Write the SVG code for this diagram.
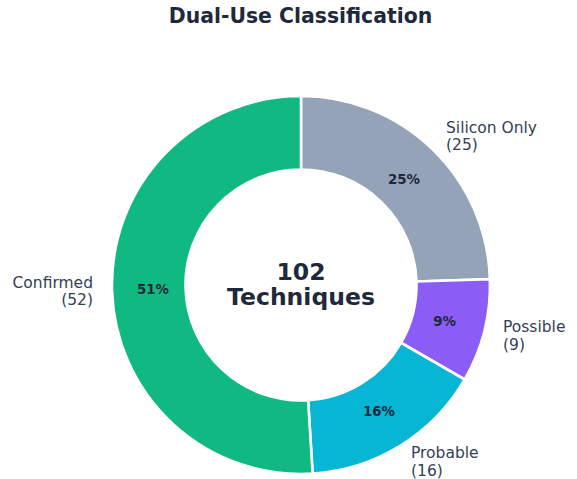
<svg xmlns="http://www.w3.org/2000/svg" width="577" height="479" viewBox="0 0 577 479">
  <style>
    text { font-family: "DejaVu Sans", "Noto Sans", sans-serif; }
    .title { font-size: 20.4px; font-weight: bold; fill: #1e293b; text-anchor: middle; }
    .wedge { stroke: #ffffff; stroke-width: 2.6; stroke-linejoin: miter; }
    .pct { font-size: 13.4px; font-weight: bold; fill: #1e293b; text-anchor: middle; }
    .lbl { font-size: 15.5px; fill: #334155; }
    .center { font-size: 23.5px; font-weight: bold; fill: #1e293b; text-anchor: middle; }
  </style>
  <rect width="577" height="479" fill="#ffffff"/>

  <text class="title" x="300.5" y="23">Dual-Use Classification</text>

  <!-- donut wedges, clockwise from 12 o'clock -->
  <g id="silicon-only">
    <path class="wedge" fill="#94a3b8" d="M 301 96 A 189 189 0 0 1 489.91 279.18 L 416.45 281.44 A 115.5 115.5 0 0 0 301 169.5 Z"/>
    <text class="pct" x="404" y="183.5">25%</text>
    <text class="lbl" x="446" y="132.5">Silicon Only</text>
    <text class="lbl" x="446" y="150">(25)</text>
  </g>
  <g id="possible">
    <path class="wedge" fill="#8b5cf6" d="M 489.91 279.18 A 189 189 0 0 1 464.68 379.5 L 401.03 342.75 A 115.5 115.5 0 0 0 416.45 281.44 Z"/>
    <text class="pct" x="444.5" y="326">9%</text>
    <text class="lbl" x="503" y="332">Possible</text>
    <text class="lbl" x="503" y="349.5">(9)</text>
  </g>
  <g id="probable">
    <path class="wedge" fill="#06b6d4" d="M 464.68 379.5 A 189 189 0 0 1 312.63 473.64 L 308.11 400.28 A 115.5 115.5 0 0 0 401.03 342.75 Z"/>
    <text class="pct" x="379" y="415.6">16%</text>
    <text class="lbl" x="411" y="458">Probable</text>
    <text class="lbl" x="411" y="475.5">(16)</text>
  </g>
  <g id="confirmed">
    <path class="wedge" fill="#10b981" d="M 312.63 473.64 A 189 189 0 1 1 301 96 L 301 169.5 A 115.5 115.5 0 1 0 308.11 400.28 Z"/>
    <text class="pct" x="153" y="294.4">51%</text>
    <text class="lbl" x="93" y="287.7" text-anchor="end">Confirmed</text>
    <text class="lbl" x="93" y="305" text-anchor="end">(52)</text>
  </g>

  <g id="total">
    <text class="center" x="301" y="279.5">102</text>
    <text class="center" x="301" y="305">Techniques</text>
  </g>

  <g id="connectors"/>
</svg>
